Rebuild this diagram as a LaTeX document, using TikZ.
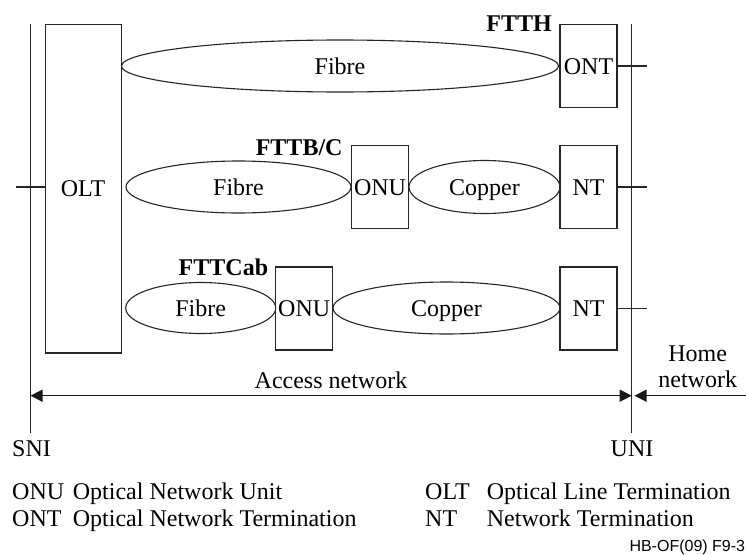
\documentclass[tikz,border=0pt]{standalone}
\usepackage{fontspec}
\setmainfont{Liberation Serif}
\newfontfamily\arialfont{Liberation Sans}
\usetikzlibrary{shapes.geometric,arrows.meta}
\begin{document}
\begin{tikzpicture}[x=1pt,y=-1pt,
  every node/.style={font=\fontsize{24}{28}\selectfont, inner sep=0pt},
  line/.style={draw=black!85, line width=1.1pt},
  centred/.style={text height=17pt, text depth=1pt},
  unitbox/.style={rectangle, draw=black!85, line width=1.1pt, minimum width=57pt, minimum height=83pt, centred},
  medium/.style={ellipse, draw=black!85, line width=1.1pt, centred},
  techlabel/.style={font=\fontsize{24}{28}\selectfont\bfseries, anchor=base east},
  txt/.style={anchor=base west},
  dimarrow/.style={draw=black!90, line width=1.5pt, -{Triangle[length=12pt,width=12pt]}}
]
\useasboundingbox[fill=white] (0,0) rectangle (746,554);

% reference lines
\coordinate (snitop) at (30.5,24);
\coordinate (snibot) at (30.5,433);
\coordinate (unitop) at (631.7,24);
\coordinate (unibot) at (631.7,433);
\draw[line] (snitop) -- (snibot);
\draw[line] (unitop) -- (unibot);

% OLT
\node[rectangle, draw=black!85, line width=1.1pt, minimum width=76pt, minimum height=328.5pt] (olt) at (83.5,188.75) {};
\node[centred] (oltt) at (83,188) {OLT};
\coordinate (oltstub) at (16,187);
\draw[line] (oltstub) -- (olt.west |- oltstub);

% FTTH row
\node[unitbox] (ont) at (588.5,66) {ONT};
\node[medium, minimum width=437pt, minimum height=52pt] (f1) at (340,66) {Fibre};
\coordinate (s1) at (647,66);
\draw[line] (ont.east) -- (s1);
\node[techlabel] (ftth) at (552,31.7) {FTTH};

% FTTB/C row
\node[unitbox] (onu2) at (380,187) {ONU};
\node[unitbox] (nt2) at (588.5,187) {NT};
\node[medium, minimum width=225pt, minimum height=52pt] (f2) at (238.5,187) {Fibre};
\node[medium, minimum width=151pt, minimum height=53pt] (c2) at (484.5,187) {Copper};
\coordinate (s2) at (647,187);
\draw[line] (nt2.east) -- (s2);
\node[techlabel] (fttb) at (342.7,155) {FTTB/C};

% FTTCab row
\node[unitbox] (onu3) at (304.2,308.5) {ONU};
\node[unitbox] (nt3) at (588.5,308.5) {NT};
\node[medium, minimum width=150pt, minimum height=51pt] (f3) at (200.7,308) {Fibre};
\node[medium, minimum width=227pt, minimum height=52pt] (c3) at (446.5,308) {Copper};
\coordinate (s3) at (647,308.5);
\draw[line] (nt3.east) -- (s3);
\node[techlabel] (fttcab) at (268.3,275) {FTTCab};

% dimension arrows
\coordinate (accl) at (30.5,395.7);
\coordinate (accr) at (631.7,395.7);
\coordinate (homer) at (746,395.7);
\coordinate (homel) at (634.5,395.7);
\draw[dimarrow, {Triangle[length=12pt,width=12pt]}-{Triangle[length=12pt,width=12pt]}] (accl) -- (accr);
\draw[dimarrow] (homer) -- (homel);
\node[anchor=base] (acc) at (331,388) {Access network};
\node[anchor=base] (home1) at (697.7,361.7) {Home};
\node[anchor=base] (home2) at (697.7,387.7) {network};

\node[txt] (sni) at (12,456.7) {SNI};
\node[anchor=base] (uni) at (632,456.7) {UNI};

% legend
\node[txt] (l1a) at (12,499.3) {ONU};
\node[txt] (l1b) at (72.7,499.3) {Optical Network Unit};
\node[txt] (l2a) at (12,526.7) {ONT};
\node[txt] (l2b) at (72.7,526.7) {Optical Network Termination};
\node[txt] (l3a) at (425,499.3) {OLT};
\node[txt] (l3b) at (486.7,499.3) {Optical Line Termination};
\node[txt] (l4a) at (425,526.7) {NT};
\node[txt] (l4b) at (486.7,526.7) {Network Termination};

\node[txt, font=\arialfont\fontsize{16}{18}\selectfont] (ref) at (629.3,551.7) {HB-OF(09) F9-3};
\end{tikzpicture}
\end{document}
